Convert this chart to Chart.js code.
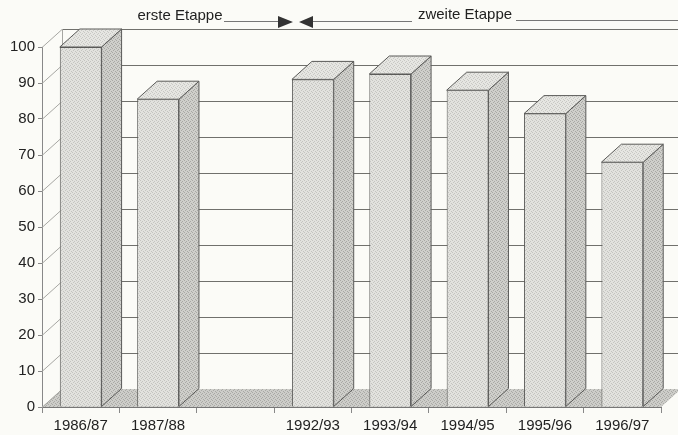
<!DOCTYPE html>
<html>
<head>
<meta charset="utf-8">
<script src="https://cdn.jsdelivr.net/npm/chart.js@4/dist/chart.umd.min.js"></script>
<style>
  body { margin: 0; background: #fbfbf7; }
  canvas { display: block; }
</style>
</head>
<body>
<canvas id="myChart" width="678" height="435"></canvas>
<script>
const seasons = ['1986/87', '1987/88', '', '1992/93', '1993/94', '1994/95', '1995/96', '1996/97'];
const values = [100, 85.5, null, 91, 92.5, 88, 81.5, 68];
const yTicks = [0, 10, 20, 30, 40, 50, 60, 70, 80, 90, 100];

const DX = 20;  // depth offset right
const DY = 18;  // depth offset up
const edgeColor = '#5a5a58';

// small fixed dot tile so the faces look stippled like the print
function stipple(base, dot) {
  const c = document.createElement('canvas');
  c.width = 4; c.height = 4;
  const g = c.getContext('2d');
  g.fillStyle = base;
  g.fillRect(0, 0, 4, 4);
  g.fillStyle = dot;
  [[0, 0], [2, 1], [1, 2], [3, 3]].forEach(([x, y]) => g.fillRect(x, y, 1, 1));
  return g.createPattern(c, 'repeat');
}

const ctx = document.getElementById('myChart').getContext('2d');
const frontFill = stipple('#e2e2de', '#c4c4c0');
const sideFill = stipple('#cfcfcb', '#a8a8a4');
const topFill = stipple('#e6e6e2', '#c8c8c4');
const floorFill = stipple('#cdcdc9', '#a9a9a5');

const threeD = {
  id: 'threeD',
  beforeDatasetsDraw(chart) {
    const { ctx, chartArea, scales } = chart;
    const y = scales.y;
    const left = chartArea.left, right = chartArea.right;
    const bottom = y.getPixelForValue(0);
    ctx.save();
    // floor
    ctx.fillStyle = floorFill;
    ctx.beginPath();
    ctx.moveTo(left, bottom);
    ctx.lineTo(right, bottom);
    ctx.lineTo(right + DX, bottom - DY);
    ctx.lineTo(left + DX, bottom - DY);
    ctx.closePath();
    ctx.fill();
    // left wall and back wall grid
    ctx.lineWidth = 1;
    yTicks.forEach(v => {
      const py = Math.round(y.getPixelForValue(v)) + 0.5;
      ctx.strokeStyle = '#a6a6a2';
      ctx.beginPath();
      ctx.moveTo(left, py);
      ctx.lineTo(left + DX, py - DY);
      ctx.stroke();
      if (v > 0) {
        ctx.strokeStyle = '#70706c';
        ctx.beginPath();
        ctx.moveTo(left + DX, py - DY);
        ctx.lineTo(chart.width, py - DY);
        ctx.stroke();
      }
    });
    ctx.strokeStyle = '#a6a6a2';
    ctx.beginPath();
    ctx.moveTo(left + DX + 0.5, y.getPixelForValue(100) - DY);
    ctx.lineTo(left + DX + 0.5, bottom - DY);
    ctx.stroke();
    ctx.restore();
  },
  afterDatasetsDraw(chart) {
    const { ctx } = chart;
    const meta = chart.getDatasetMeta(0);
    ctx.save();
    ctx.lineWidth = 1;
    ctx.strokeStyle = edgeColor;
    meta.data.forEach((bar, i) => {
      if (values[i] == null) return;
      const l = bar.x - bar.width / 2;
      const r = bar.x + bar.width / 2;
      const t = bar.y;
      const b = bar.base;
      // side face
      ctx.fillStyle = sideFill;
      ctx.beginPath();
      ctx.moveTo(r, b);
      ctx.lineTo(r, t);
      ctx.lineTo(r + DX, t - DY);
      ctx.lineTo(r + DX, b - DY);
      ctx.closePath();
      ctx.fill();
      ctx.stroke();
      // top face
      ctx.fillStyle = topFill;
      ctx.beginPath();
      ctx.moveTo(l, t);
      ctx.lineTo(r, t);
      ctx.lineTo(r + DX, t - DY);
      ctx.lineTo(l + DX, t - DY);
      ctx.closePath();
      ctx.fill();
      ctx.stroke();
    });
    ctx.restore();
  },
  afterDraw(chart) {
    const { ctx } = chart;
    ctx.save();
    ctx.fillStyle = '#222';
    ctx.strokeStyle = '#777';
    ctx.lineWidth = 1;
    ctx.font = '15px "Liberation Sans", Arial, sans-serif';
    ctx.textBaseline = 'middle';
    ctx.textAlign = 'center';
    ctx.fillText('erste Etappe', 180, 16);
    ctx.fillText('zweite Etappe', 465, 15);
    ctx.beginPath();
    ctx.moveTo(224, 21.5); ctx.lineTo(280, 21.5);
    ctx.moveTo(312, 21.5); ctx.lineTo(412, 21.5);
    ctx.moveTo(516, 20.5); ctx.lineTo(678, 20.5);
    ctx.stroke();
    ctx.fillStyle = '#333';
    ctx.beginPath();
    ctx.moveTo(278, 16); ctx.lineTo(293, 22); ctx.lineTo(278, 28); ctx.closePath();
    ctx.moveTo(313, 16); ctx.lineTo(299, 22); ctx.lineTo(313, 28); ctx.closePath();
    ctx.fill();
    ctx.restore();
  }
};

const myChart = new Chart(ctx, {
  type: 'bar',
  data: {
    labels: seasons,
    datasets: [{
      data: values,
      backgroundColor: frontFill,
      borderColor: edgeColor,
      borderWidth: 1,
      categoryPercentage: 1,
      barPercentage: 0.54,
    }]
  },
  options: {
    responsive: false,
    animation: false,
    layout: { padding: { top: 47, right: 17, bottom: 0, left: 0 } },
    plugins: { legend: { display: false }, tooltip: { enabled: false } },
    scales: {
      x: {
        grid: { drawOnChartArea: false, tickLength: 6, color: '#888' },
        border: { color: '#777' },
        ticks: { color: '#222', font: { family: '"Liberation Sans", Arial', size: 15 }, padding: 4, maxRotation: 0, autoSkip: false },
        afterFit: s => { s.height = 28; },
      },
      y: {
        min: 0,
        max: 100,
        afterBuildTicks: s => { s.ticks = yTicks.map(v => ({ value: v })); },
        grid: { drawOnChartArea: false, tickLength: 4, color: '#888' },
        border: { color: '#888' },
        ticks: { color: '#222', font: { family: '"Liberation Sans", Arial', size: 15 }, padding: 3 },
        afterFit: s => { s.width = 42; },
      }
    }
  },
  plugins: [threeD]
});
</script>
</body>
</html>
